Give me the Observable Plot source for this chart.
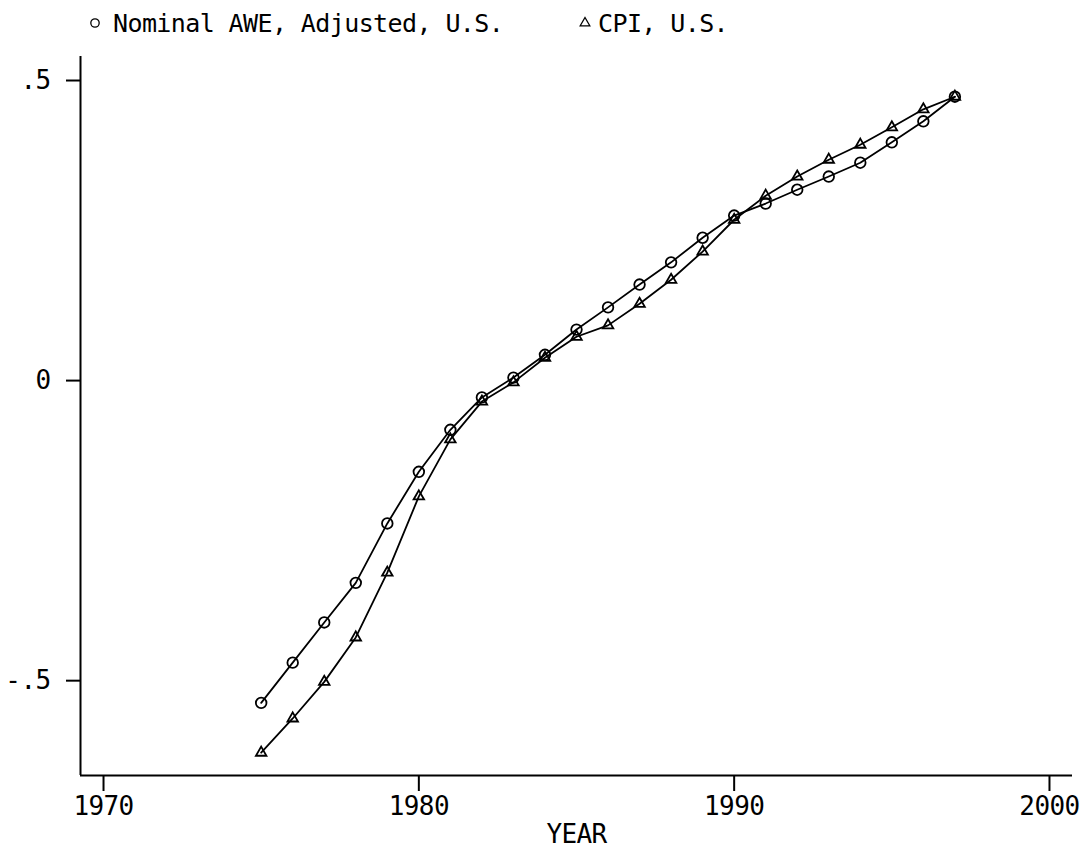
<!DOCTYPE html>
<html>
<head>
<meta charset="utf-8">
<script src="https://cdn.jsdelivr.net/npm/d3@7"></script>
<script src="https://cdn.jsdelivr.net/npm/@observablehq/plot@0.6"></script>
<style>
  html, body { margin: 0; padding: 0; background: #fff; }
  #wrap { position: relative; width: 1090px; height: 854px; font-family: "DejaVu Sans Mono", monospace; }
  #legend { position: relative; height: 45px; width: 1090px; }
  #legend svg { position: absolute; left: 0; top: 0; }
</style>
</head>
<body>
<div id="wrap">
  <div id="legend"></div>
  <div id="chart"></div>
</div>
<script>
const years = [1975, 1976, 1977, 1978, 1979, 1980, 1981, 1982, 1983, 1984, 1985, 1986,
               1987, 1988, 1989, 1990, 1991, 1992, 1993, 1994, 1995, 1996, 1997];
const awe = [-0.537, -0.470, -0.403, -0.337, -0.238, -0.152, -0.082, -0.028, 0.005, 0.043,
             0.085, 0.122, 0.160, 0.197, 0.238, 0.275, 0.295, 0.318, 0.340, 0.363,
             0.397, 0.432, 0.473];
const cpi = [-0.620, -0.563, -0.502, -0.428, -0.320, -0.193, -0.098, -0.035, -0.003, 0.038,
             0.073, 0.092, 0.128, 0.168, 0.215, 0.268, 0.308, 0.340, 0.368, 0.393,
             0.422, 0.452, 0.473];
const seriesNames = ["Nominal AWE, Adjusted, U.S.", "CPI, U.S."];
const seriesSymbols = ["circle", "triangle"];
const xTicks = [1970, 1980, 1990, 2000];
const yTicks = [-0.5, 0, 0.5];
const xLabel = "YEAR";

const rows = [];
years.forEach((yr, i) => {
  rows.push({year: yr, value: awe[i], series: seriesNames[0]});
  rows.push({year: yr, value: cpi[i], series: seriesNames[1]});
});

const xDomain = [1969.27, 2000.73];
const yDomain = [-0.658, 0.54];
const fmtY = d => d === 0 ? "0" : String(d).replace("0.", ".");

const symbolScale = {domain: seriesNames, range: seriesSymbols};

const plot = Plot.plot({
  width: 1090,
  height: 809,
  marginLeft: 80,
  marginRight: 18,
  marginTop: 11,
  marginBottom: 79,
  style: {fontFamily: "DejaVu Sans Mono, monospace", fontSize: "26px", color: "#000", background: "#fff", letterSpacing: "-0.6px"},
  x: {domain: xDomain},
  y: {domain: yDomain},
  symbol: symbolScale,
  marks: [
    Plot.ruleX([xDomain[0]], {stroke: "#000", strokeWidth: 2}),
    Plot.ruleY([yDomain[0]], {stroke: "#000", strokeWidth: 2}),
    Plot.axisY({ticks: yTicks, tickSize: 14, tickPadding: 16, tickFormat: fmtY, label: null, strokeWidth: 2}),
    Plot.axisX({ticks: xTicks, tickSize: 16, tickPadding: 5, tickFormat: d => String(d), label: null, strokeWidth: 2}),
    Plot.text([xLabel], {frameAnchor: "bottom", dy: 67, text: d => d, fontSize: 26}),
    Plot.line(rows, {x: "year", y: "value", z: "series", stroke: "#000", strokeWidth: 1.8}),
    Plot.dot(rows.filter(d => d.series === seriesNames[0]), {x: "year", y: "value", symbol: "series", r: 5.3, stroke: "#000", fill: "none", strokeWidth: 1.8}),
    Plot.dot(rows.filter(d => d.series === seriesNames[1]), {x: "year", y: "value", symbol: "series", r: 3.9, stroke: "#000", fill: "none", strokeWidth: 1.8})
  ]
});
document.getElementById("chart").appendChild(plot);

// Legend (HTML/SVG above the plot)
const legendPos = [{sx: 95, tx: 113}, {sx: 585, tx: 598}];
const lg = d3.select("#legend").append("svg").attr("width", 1090).attr("height", 45);
seriesNames.forEach((name, i) => {
  const p = legendPos[i];
  lg.append("path")
    .attr("d", d3.symbol(seriesSymbols[i] === "circle" ? d3.symbolCircle : d3.symbolTriangle,
                         seriesSymbols[i] === "circle" ? 55 : 40)())
    .attr("transform", `translate(${p.sx},23)`)
    .attr("fill", "none").attr("stroke", "#000").attr("stroke-width", 1.3);
  lg.append("text")
    .attr("x", p.tx).attr("y", 32)
    .attr("font-family", "DejaVu Sans Mono, monospace")
    .attr("font-size", 25)
    .attr("letter-spacing", "-0.6px")
    .attr("fill", "#000")
    .text(name);
});
</script>
</body>
</html>
